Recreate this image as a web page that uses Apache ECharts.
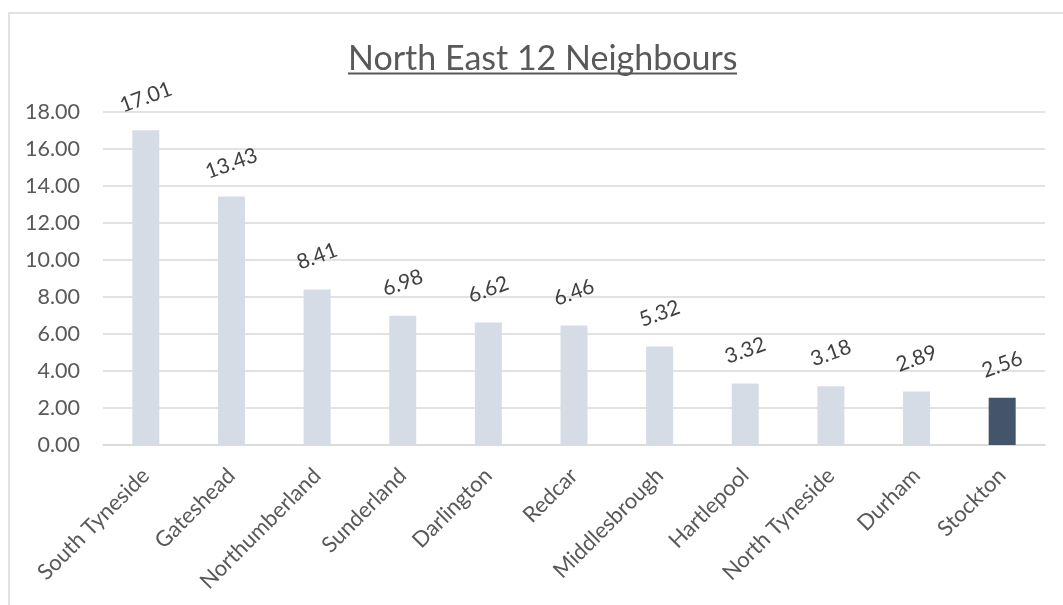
<!DOCTYPE html>
<html>
<head>
<meta charset="utf-8">
<script src="https://cdn.jsdelivr.net/npm/echarts@6/dist/echarts.min.js"></script>
<style>
html,body{margin:0;padding:0;background:#fff;}
#chart{width:1063px;height:605px;}
</style>
</head>
<body>
<div id="chart"></div>
<script>
const titleText = 'North East 12 Neighbours';
const categories = ['South Tyneside','Gateshead','Northumberland','Sunderland','Darlington','Redcar','Middlesbrough','Hartlepool','North Tyneside','Durham','Stockton'];
const values = [17.01, 13.43, 8.41, 6.98, 6.62, 6.46, 5.32, 3.32, 3.18, 2.89, 2.56];
const highlightCategory = 'Stockton';
const yMin = 0, yMax = 18, yStep = 2;

const FONT = 'Lato';
const chart = echarts.init(document.getElementById('chart'));
chart.setOption({
  animation: false,
  backgroundColor: '#fff',
  title: {
    text: titleText,
    left: 343,
    top: 37,
    textStyle: { fontFamily: FONT, fontSize: 34, fontWeight: 'normal', color: '#595959' }
  },
  graphic: [
    { type: 'rect', shape: { x: 9, y: 13, width: 1200, height: 800 }, style: { fill: null, stroke: '#D9D9D9', lineWidth: 1.5 }, silent: true },
    { type: 'line', shape: { x1: 348, y1: 73.5, x2: 737, y2: 73.5 }, style: { stroke: '#595959', lineWidth: 2 }, silent: true }
  ],
  grid: { left: 103, right: 18, top: 112, bottom: 160, containLabel: false },
  xAxis: {
    type: 'category',
    data: categories,
    axisLine: { show: true, lineStyle: { color: '#D9D9D9', width: 1.5 } },
    axisTick: { show: false },
    axisLabel: { rotate: 45, margin: 27, interval: 0, fontFamily: FONT, fontSize: 22, color: '#595959' }
  },
  yAxis: {
    type: 'value',
    min: yMin, max: yMax, interval: yStep,
    axisLine: { show: false },
    axisTick: { show: false },
    splitLine: { lineStyle: { color: '#D9D9D9', width: 1.5 } },
    axisLabel: { margin: 23, fontFamily: FONT, fontSize: 21.5, color: '#595959', formatter: v => v.toFixed(2) }
  },
  series: [{
    type: 'bar',
    barWidth: 27,
    data: values.map((v, i) => ({
      value: v,
      itemStyle: { color: categories[i] === highlightCategory ? '#44546A' : '#D6DCE5' }
    })),
    label: {
      show: true,
      position: 'top',
      distance: 33,
      rotate: 20,
      align: 'center',
      verticalAlign: 'middle',
      fontFamily: FONT,
      fontSize: 21,
      color: '#404040',
      formatter: p => p.value.toFixed(2)
    }
  }]
});
</script>
</body>
</html>
